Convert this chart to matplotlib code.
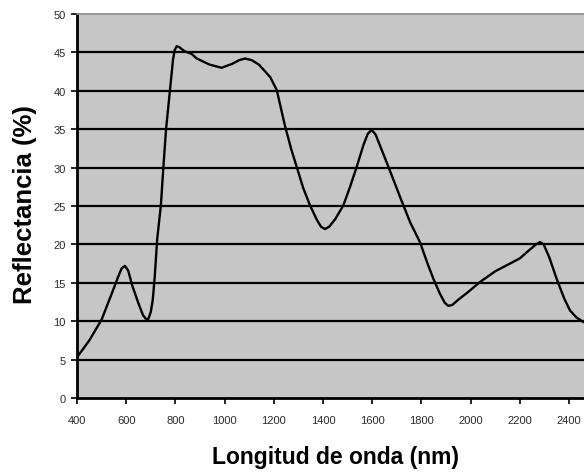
import matplotlib.pyplot as plt

# reflectance spectrum (wavelength in nm, reflectance in %)
wavelength = [400, 450, 500, 540, 570, 582, 595, 608, 625, 650, 668, 680, 690,
              700, 708, 716, 726, 741, 751, 762, 778, 790, 797, 805, 815, 835,
              866, 887, 940, 988, 1030, 1060, 1083, 1110, 1140, 1185, 1212,
              1245, 1270, 1293, 1320, 1347, 1375, 1392, 1408, 1425, 1450,
              1483, 1510, 1537, 1565, 1582, 1598, 1614, 1635, 1666, 1713,
              1754, 1794, 1825, 1849, 1875, 1895, 1909, 1925, 1950, 1990,
              2038, 2100, 2160, 2201, 2240, 2266, 2282, 2297, 2320, 2350,
              2380, 2404, 2430, 2458, 2500]
reflectance = [5.3, 7.5, 10.2, 13.5, 16.0, 16.9, 17.2, 16.6, 14.6, 12.3, 10.8, 10.3, 10.3,
               11.2, 12.8, 15.8, 20.7, 25.1, 30.0, 35.0, 40.1, 44.0, 45.3, 45.8, 45.7, 45.2,
               44.8, 44.2, 43.4, 43.0, 43.5, 44.0, 44.2, 44.0, 43.4, 41.8, 40.1,
               35.5, 32.5, 30.1, 27.3, 25.1, 23.2, 22.3, 22.0, 22.3, 23.3,
               25.1, 27.5, 30.1, 33.0, 34.4, 34.9, 34.3, 32.6, 30.1, 26.2,
               22.9, 20.3, 17.5, 15.5, 13.6, 12.4, 12.0, 12.1, 12.8, 13.8,
               15.1, 16.5, 17.5, 18.2, 19.3, 20.0, 20.3, 20.0, 18.3, 15.5,
               13.0, 11.4, 10.5, 9.9, 9.5]

x_ticks = [400, 600, 800, 1000, 1200, 1400, 1600, 1800, 2000, 2200, 2400]
y_ticks = [0, 5, 10, 15, 20, 25, 30, 35, 40, 45, 50]

plt.rcParams['font.family'] = ['Liberation Sans', 'DejaVu Sans']

fig = plt.figure(figsize=(5.84, 4.77), dpi=100)
ax = fig.add_axes([77 / 584, 1 - 399 / 477, 1 - 77 / 584, 384 / 477])
ax.set_facecolor('#c6c6c6')

for y in y_ticks[1:-1]:
    ax.axhline(y, color='black', lw=1.6, zorder=1)

ax.plot(wavelength, reflectance, color='black', lw=1.7, zorder=3,
        solid_joinstyle='round', solid_capstyle='round')

ax.set_xlim(400, 2461)
ax.set_ylim(0, 50)
ax.set_xticks(x_ticks)
ax.set_yticks(y_ticks)
ax.tick_params(axis='both', labelsize=8, labelcolor='#2a2a2a', color='black',
               length=4, width=1.2)
ax.tick_params(axis='x', pad=8)
ax.tick_params(axis='y', pad=4)

ax.spines['left'].set_linewidth(2)
ax.spines['bottom'].set_linewidth(2)
ax.spines['top'].set_color('#8a8a8a')
ax.spines['top'].set_linewidth(1.2)
ax.spines['right'].set_visible(False)

fig.text(336 / 584, 1 - 458 / 477, 'Longitud de onda (nm)', ha='center', va='center',
         fontsize=16.5, fontweight='bold')
fig.text(25 / 584, 1 - 205 / 477, 'Reflectancia (%)', ha='center', va='center',
         rotation=90, fontsize=18.5, fontweight='bold')

fig.savefig('out.png', dpi=100)
